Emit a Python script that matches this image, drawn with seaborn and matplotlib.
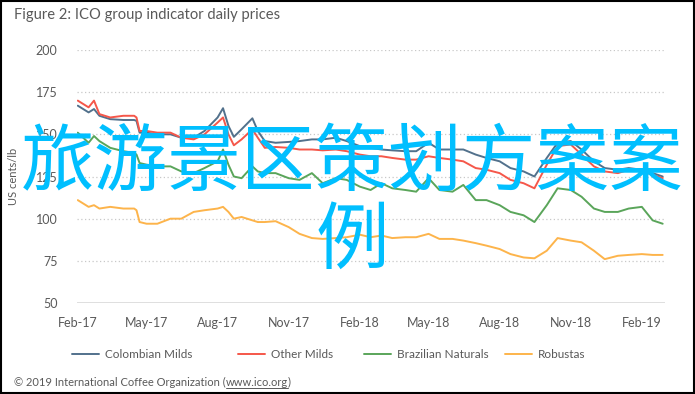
import matplotlib
matplotlib.use("Agg")
import matplotlib.pyplot as plt
import matplotlib.dates as mdates
from matplotlib.patches import Rectangle
from matplotlib.lines import Line2D
import seaborn as sns
import pandas as pd

dates = [
    "2017-02-01", "2017-02-15", "2017-02-22", "2017-03-01", "2017-03-15", "2017-04-01", "2017-04-15",
    "2017-04-18", "2017-04-22", "2017-05-01", "2017-05-15", "2017-06-01", "2017-06-15", "2017-07-01",
    "2017-07-15", "2017-08-01", "2017-08-08", "2017-08-15", "2017-08-22", "2017-09-01", "2017-09-15",
    "2017-09-22", "2017-10-01", "2017-10-15", "2017-11-01", "2017-11-15", "2017-12-01", "2017-12-15",
    "2018-01-01", "2018-01-15", "2018-02-01", "2018-02-15", "2018-03-01", "2018-03-15", "2018-04-01",
    "2018-04-15", "2018-05-01", "2018-05-15", "2018-06-01", "2018-06-15", "2018-07-01", "2018-07-15",
    "2018-08-01", "2018-08-15", "2018-09-01", "2018-09-15", "2018-10-01", "2018-10-15", "2018-11-01",
    "2018-11-15", "2018-12-01", "2018-12-15", "2019-01-01", "2019-01-15", "2019-02-01", "2019-02-15",
    "2019-02-28",
]

colombian_milds = [
    167, 163, 165, 161, 159, 158.5, 158.5,
    158, 151, 151, 150, 150, 148, 148,
    152, 160, 165.5, 155, 148.5, 153, 159.5,
    152, 146, 145, 145.5, 146, 147, 147,
    148, 146, 143, 142, 141, 140.5, 140,
    140, 145, 141, 141, 141, 138, 136,
    134, 130, 128, 125, 136, 145, 146,
    141, 134, 130, 129, 130, 129, 127,
    125,
]

other_milds = [
    170, 166, 170, 162, 160, 161, 161,
    160, 152, 152, 151, 151, 148, 147,
    150, 157, 160, 150, 143.5, 147, 153,
    148, 142, 142.5, 142, 141, 141, 140.5,
    141, 140, 138, 137, 137, 136, 135,
    135, 137, 136, 135, 134, 130, 129,
    127, 123, 121, 118, 132, 143, 144,
    138, 131, 128, 127, 129, 128, 126,
    124,
]

brazilian_naturals = [
    151, 145, 149, 146, 142, 140, 139,
    138, 133, 132, 131, 131, 128, 127,
    130, 134, 141, 132, 125, 124, 131,
    128, 127, 127, 124, 123, 127, 121,
    124, 123, 119, 117, 121, 118, 117,
    116, 124, 117, 116, 120, 111, 111,
    108, 104, 102, 98, 108, 118, 117,
    113, 106, 104, 104, 106, 107, 99,
    97,
]

robustas = [
    111, 107, 108, 106, 107, 106, 106,
    105, 98, 97, 97, 100, 100, 104,
    105, 106, 107, 104, 100, 101, 99,
    98, 98, 98.5, 95, 91, 88.5, 88,
    88.5, 89, 90.5, 89, 90, 88.5, 89,
    89, 91, 88, 88, 87, 85.5, 84,
    82, 79, 77, 76.5, 81, 88.5, 87,
    86, 81, 76, 78, 78.5, 79, 78.5,
    78.5,
]

series_names = ["Colombian Milds", "Other Milds", "Brazilian Naturals", "Robustas"]
series_colors = ["#52718C", "#F5574A", "#5AA55A", "#FDB44B"]
y_ticks = [50, 75, 100, 125, 150, 175, 200]
x_tick_dates = ["2017-02-01", "2017-05-01", "2017-08-01", "2017-11-01", "2018-02-01",
                "2018-05-01", "2018-08-01", "2018-11-01", "2019-02-01"]

title_text = "Figure 2: ICO group indicator daily prices"
y_label = "US cents/lb"
footer_main = "© 2019 International Coffee Organization ("
footer_link = "www.ico.org"
footer_end = ")"
watermark_text = "旅游景区策划方案案\n例"

frames = []
for name, vals in zip(series_names, [colombian_milds, other_milds, brazilian_naturals, robustas]):
    frames.append(pd.DataFrame({"date": pd.to_datetime(dates), "price": vals, "series": name}))
df = pd.concat(frames, ignore_index=True)

sns.set_theme(style="white")
plt.rcParams["font.family"] = ["Lato", "DejaVu Sans"]

W, H = 695, 394
fig = plt.figure(figsize=(6.95, 3.94), dpi=100)
ax = fig.add_axes([77 / W, 1 - 303 / H, (665 - 77) / W, (303 - 50) / H])

sns.lineplot(data=df, x="date", y="price", hue="series", hue_order=series_names,
             palette=series_colors, linewidth=1.4, ax=ax, legend=True)

ax.set_ylim(50, 200)
ax.set_yticks(y_ticks)
ax.set_xlim(pd.Timestamp("2017-01-31"), pd.Timestamp("2019-03-03"))
ax.set_xticks(pd.to_datetime(x_tick_dates))
ax.xaxis.set_major_formatter(mdates.DateFormatter("%b-%y"))

for v in y_ticks[1:]:
    ax.axhline(v, color="#C8C8C8", linestyle=(0, (1, 2)), linewidth=0.9, zorder=0)
ax.axhline(50, color="#D9D9D9", linewidth=1.2, zorder=0)

for s in ax.spines.values():
    s.set_visible(False)
ax.tick_params(axis="both", length=0, labelsize=9, labelcolor="#595959")
ax.tick_params(axis="x", pad=10)
ax.tick_params(axis="y", pad=14)
ax.set_xlabel("")
ax.set_ylabel(y_label, fontsize=8, color="#595959")
ax.yaxis.set_label_coords(-0.099, 0.5)

handles, labels = ax.get_legend_handles_labels()
ax.legend_.remove()
legend_x = [72, 238, 364, 505]
for h, l, lx in zip(handles, labels, legend_x):
    leg = fig.legend([h], [l], loc="center left", bbox_to_anchor=(lx / W, 1 - 355 / H),
                     frameon=False, fontsize=8.5, handlelength=2.3, handletextpad=0.5,
                     borderpad=0, borderaxespad=0, labelcolor="#595959")

fig.text(14 / W, 1 - 15 / H, title_text, fontsize=10.6, color="#595959", va="center", ha="left")

t1 = fig.text(14 / W, 1 - 382 / H, footer_main, fontsize=8, color="#595959", va="center", ha="left")
fig.canvas.draw()
r = fig.canvas.get_renderer()
bb = t1.get_window_extent(renderer=r)
t2 = fig.text(bb.x1 / W, 1 - 382 / H, footer_link, fontsize=8, color="#595959", va="center", ha="left")
bb2 = t2.get_window_extent(renderer=r)
fig.text(bb2.x1 / W, 1 - 382 / H, footer_end, fontsize=8, color="#595959", va="center", ha="left")
fig.add_artist(Line2D([bb2.x0 / W, bb2.x1 / W], [1 - 388 / H, 1 - 388 / H],
                      transform=fig.transFigure, color="#595959", linewidth=0.7))

fig.text(352 / W, 1 - 203 / H, watermark_text, fontsize=53, color="#00BFFF",
         ha="center", va="center", multialignment="center", linespacing=1.05,
         family=["Noto Sans CJK SC", "DejaVu Sans"], zorder=10)

fig.patches.append(Rectangle((0.001, 0.002), 0.997, 0.996, transform=fig.transFigure,
                             fill=False, edgecolor="black", linewidth=1.5))

fig.savefig("out.png", dpi=100)
